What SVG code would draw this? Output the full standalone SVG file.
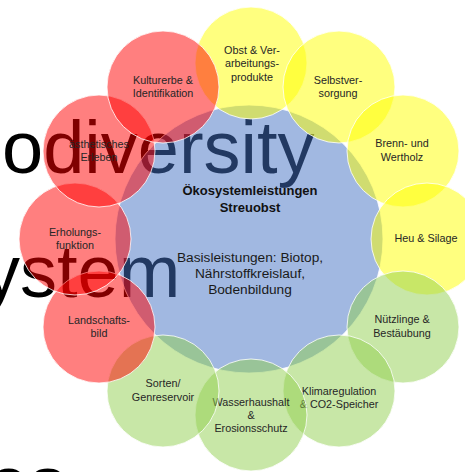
<svg xmlns="http://www.w3.org/2000/svg" width="465" height="472" viewBox="0 0 465 472">
<style>
.bg{font-family:"Liberation Sans",Arial,sans-serif;font-size:74px;fill:#000}
.c{stroke:#ffffff;stroke-width:1;stroke-opacity:0.8}
.blue{fill:#4472C4;fill-opacity:0.5}
.yel{fill:#FFFF00;fill-opacity:0.5}
.grn{fill:#92D050;fill-opacity:0.5}
.red{fill:#FF0000;fill-opacity:0.5}
.t{font-family:"Liberation Sans",Arial,sans-serif;font-size:10.8px;fill:#262626;text-anchor:middle}
.h{font-family:"Liberation Sans",Arial,sans-serif;font-size:13px;font-weight:bold;fill:#111;text-anchor:middle}
.b{font-family:"Liberation Sans",Arial,sans-serif;font-size:13.7px;fill:#1a1a1a;text-anchor:middle}
</style>
<rect width="465" height="472" fill="#ffffff"/>
<g id="background-text">
<text class="bg" x="2" y="173">odiversity</text>
<text class="bg" x="-17" y="297">ystem</text>
<text class="bg" x="-12" y="508">es</text>
</g>
<g id="center">
<circle class="c blue" cx="249" cy="239" r="134"/>
<text class="h" x="250" y="195">Ökosystemleistungen</text>
<text class="h" x="250" y="212">Streuobst</text>
<text class="b" x="250" y="262">Basisleistungen: Biotop,</text>
<text class="b" x="250" y="278">Nährstoffkreislauf,</text>
<text class="b" x="250" y="294">Bodenbildung</text>
</g>
<g id="obst">
<circle class="c yel" cx="251" cy="63" r="56"/>
<text class="t" x="252" y="54">Obst &amp; Ver-</text>
<text class="t" x="252" y="67">arbeitungs-</text>
<text class="t" x="252" y="81">produkte</text>
</g>
<g id="selbstversorgung">
<circle class="c yel" cx="339" cy="87" r="56"/>
<text class="t" x="338" y="84">Selbstver-</text>
<text class="t" x="338" y="97">sorgung</text>
</g>
<g id="brennholz">
<circle class="c yel" cx="403" cy="151" r="56"/>
<text class="t" x="402" y="147">Brenn- und</text>
<text class="t" x="402" y="161">Wertholz</text>
</g>
<g id="heu">
<circle class="c yel" cx="427" cy="239" r="56"/>
<text class="t" x="426" y="242">Heu &amp; Silage</text>
</g>
<g id="nuetzlinge">
<circle class="c grn" cx="403" cy="327" r="56"/>
<text class="t" x="402" y="323">Nützlinge &amp;</text>
<text class="t" x="402" y="337">Bestäubung</text>
</g>
<g id="klima">
<circle class="c grn" cx="339" cy="391" r="56"/>
<text class="t" x="339" y="395">Klimaregulation</text>
<text class="t" x="339" y="408">&amp; CO2-Speicher</text>
</g>
<g id="wasser">
<circle class="c grn" cx="251" cy="415" r="56"/>
<text class="t" x="251" y="406">Wasserhaushalt</text>
<text class="t" x="251" y="419">&amp;</text>
<text class="t" x="251" y="432">Erosionsschutz</text>
</g>
<g id="sorten">
<circle class="c grn" cx="163" cy="391" r="56"/>
<text class="t" x="163" y="387">Sorten/</text>
<text class="t" x="163" y="401">Genreservoir</text>
</g>
<g id="landschaft">
<circle class="c red" cx="99" cy="327" r="56"/>
<text class="t" x="99" y="324">Landschafts-</text>
<text class="t" x="99" y="337">bild</text>
</g>
<g id="erholung">
<circle class="c red" cx="75" cy="239" r="56"/>
<text class="t" x="75" y="236">Erholungs-</text>
<text class="t" x="75" y="249">funktion</text>
</g>
<g id="aesthetik">
<circle class="c red" cx="99" cy="151" r="56"/>
<text class="t" x="99" y="148">ästhetisches</text>
<text class="t" x="99" y="161">Erleben</text>
</g>
<g id="kulturerbe">
<circle class="c red" cx="163" cy="87" r="56"/>
<text class="t" x="163" y="84">Kulturerbe &amp;</text>
<text class="t" x="163" y="97">Identifikation</text>
</g>
<g id="connectors"/>
</svg>
